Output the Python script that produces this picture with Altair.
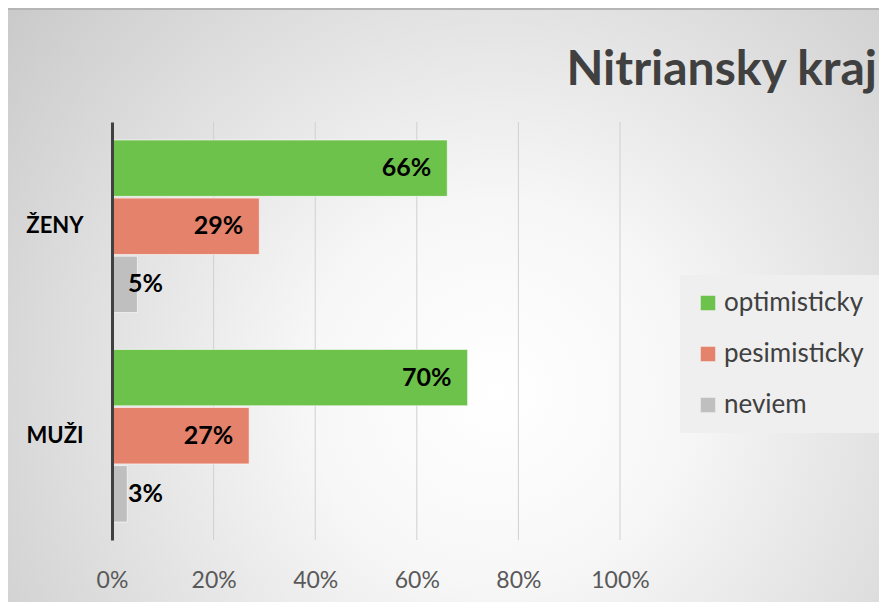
import altair as alt
import pandas as pd

categories = ["ŽENY", "MUŽI"]
series = ["optimisticky", "pesimisticky", "neviem"]
colors = ["#6cc24a", "#e4826c", "#bfbfbf"]
zeny = [66, 29, 5]
muzi = [70, 27, 3]
x_ticks = [0, 0.2, 0.4, 0.6, 0.8, 1.0]

rows = []
for cat, vals in zip(categories, [zeny, muzi]):
    for s, v in zip(series, vals):
        rows.append({"kategoria": cat, "odpoved": s, "podiel": v / 100, "label": f"{v}%"})
df = pd.DataFrame(rows)

W, H = 508, 418
PL, PT, PR, PB = 104, 114, 259, 62
FONT = "Lato"

y_enc = alt.Y("kategoria:N", sort=categories,
              scale=alt.Scale(paddingInner=0.176, paddingOuter=0.086),
              axis=alt.Axis(title=None, ticks=False, domain=True, domainColor="#404040",
                            domainWidth=3, labelFontSize=22, labelFont=FONT,
                            labelFontWeight="bold", labelColor="#000000",
                            labelPadding=29, zindex=1))
yoff_enc = alt.YOffset("odpoved:N", sort=series, scale=alt.Scale(paddingInner=0.03))
x_scale = alt.Scale(domain=[0, 1])

bg = alt.Chart(alt.Data(values=[{}])).mark_rect(
    fill={"gradient": "radial", "x1": 0.56, "y1": 0.6, "r1": 0,
          "x2": 0.56, "y2": 0.6, "r2": 0.72,
          "stops": [{"offset": 0, "color": "#ffffff"},
                    {"offset": 0.3, "color": "#f7f7f7"},
                    {"offset": 1, "color": "#c9c9c9"}]},
).encode(x=alt.value(-PL), x2=alt.value(W + PR), y=alt.value(-PT), y2=alt.value(H + PB))

top_line = alt.Chart(alt.Data(values=[{}])).mark_rule(color="#b5b5b5", strokeWidth=2).encode(
    x=alt.value(-PL), x2=alt.value(W + PR), y=alt.value(-PT + 1)
)

grid = alt.Chart(pd.DataFrame({"t": x_ticks[1:]})).mark_rule(color="#d0d0d0", strokeWidth=1).encode(
    x=alt.X("t:Q", scale=x_scale)
)

bars = alt.Chart(df).mark_bar(stroke="#ffffff", strokeWidth=1, strokeOpacity=0.6).encode(
    x=alt.X("podiel:Q", scale=x_scale,
            axis=alt.Axis(title=None, values=x_ticks, format=".0%", grid=False, domain=False,
                          ticks=False, labelFontSize=23, labelFont=FONT, labelColor="#595959",
                          labelPadding=29, labelFlush=False, zindex=1)),
    y=y_enc,
    yOffset=yoff_enc,
    color=alt.Color("odpoved:N", sort=series,
                    scale=alt.Scale(domain=series, range=colors),
                    legend=alt.Legend(title=None, orient="none", legendX=568, legendY=153,
                                      fillColor="#efefef", padding=15, symbolType="square",
                                      symbolSize=210, symbolStrokeWidth=0, symbolOpacity=1,
                                      labelFontSize=26, labelFont=FONT, labelColor="#404040",
                                      rowPadding=25, labelOffset=3, labelLimit=300)),
)

txt_in = alt.Chart(df).transform_filter(alt.datum.odpoved != "neviem").mark_text(
    align="right", baseline="middle", dx=-16, fontSize=25, font=FONT,
    fontWeight="bold", color="#000000"
).encode(x=alt.X("podiel:Q", scale=x_scale), y=alt.Y("kategoria:N", sort=categories),
         yOffset=alt.YOffset("odpoved:N", sort=series), text="label:N")

txt_out = alt.Chart(df).transform_filter(alt.datum.odpoved == "neviem").mark_text(
    align="left", baseline="middle", dx=16, fontSize=25, font=FONT,
    fontWeight="bold", color="#000000"
).encode(x=alt.datum(0, scale=x_scale), y=alt.Y("kategoria:N", sort=categories),
         yOffset=alt.YOffset("odpoved:N", sort=series), text="label:N")

chart = alt.layer(bg, top_line, grid, bars, txt_in, txt_out).properties(
    width=W, height=H,
    title=alt.Title("Nitriansky kraj", anchor="end", frame="group", fontSize=48, font=FONT,
                    fontWeight="bold", color="#404040", dx=257, dy=162, offset=37,
                    baseline="alphabetic"),
    autosize=alt.AutoSizeParams(type="none"),
    padding={"left": PL, "top": PT, "right": PR, "bottom": PB},
).configure_view(stroke=None).configure(background="#d9d9d9")

chart.save("out.html", embed_options={"renderer": "svg", "actions": False})
